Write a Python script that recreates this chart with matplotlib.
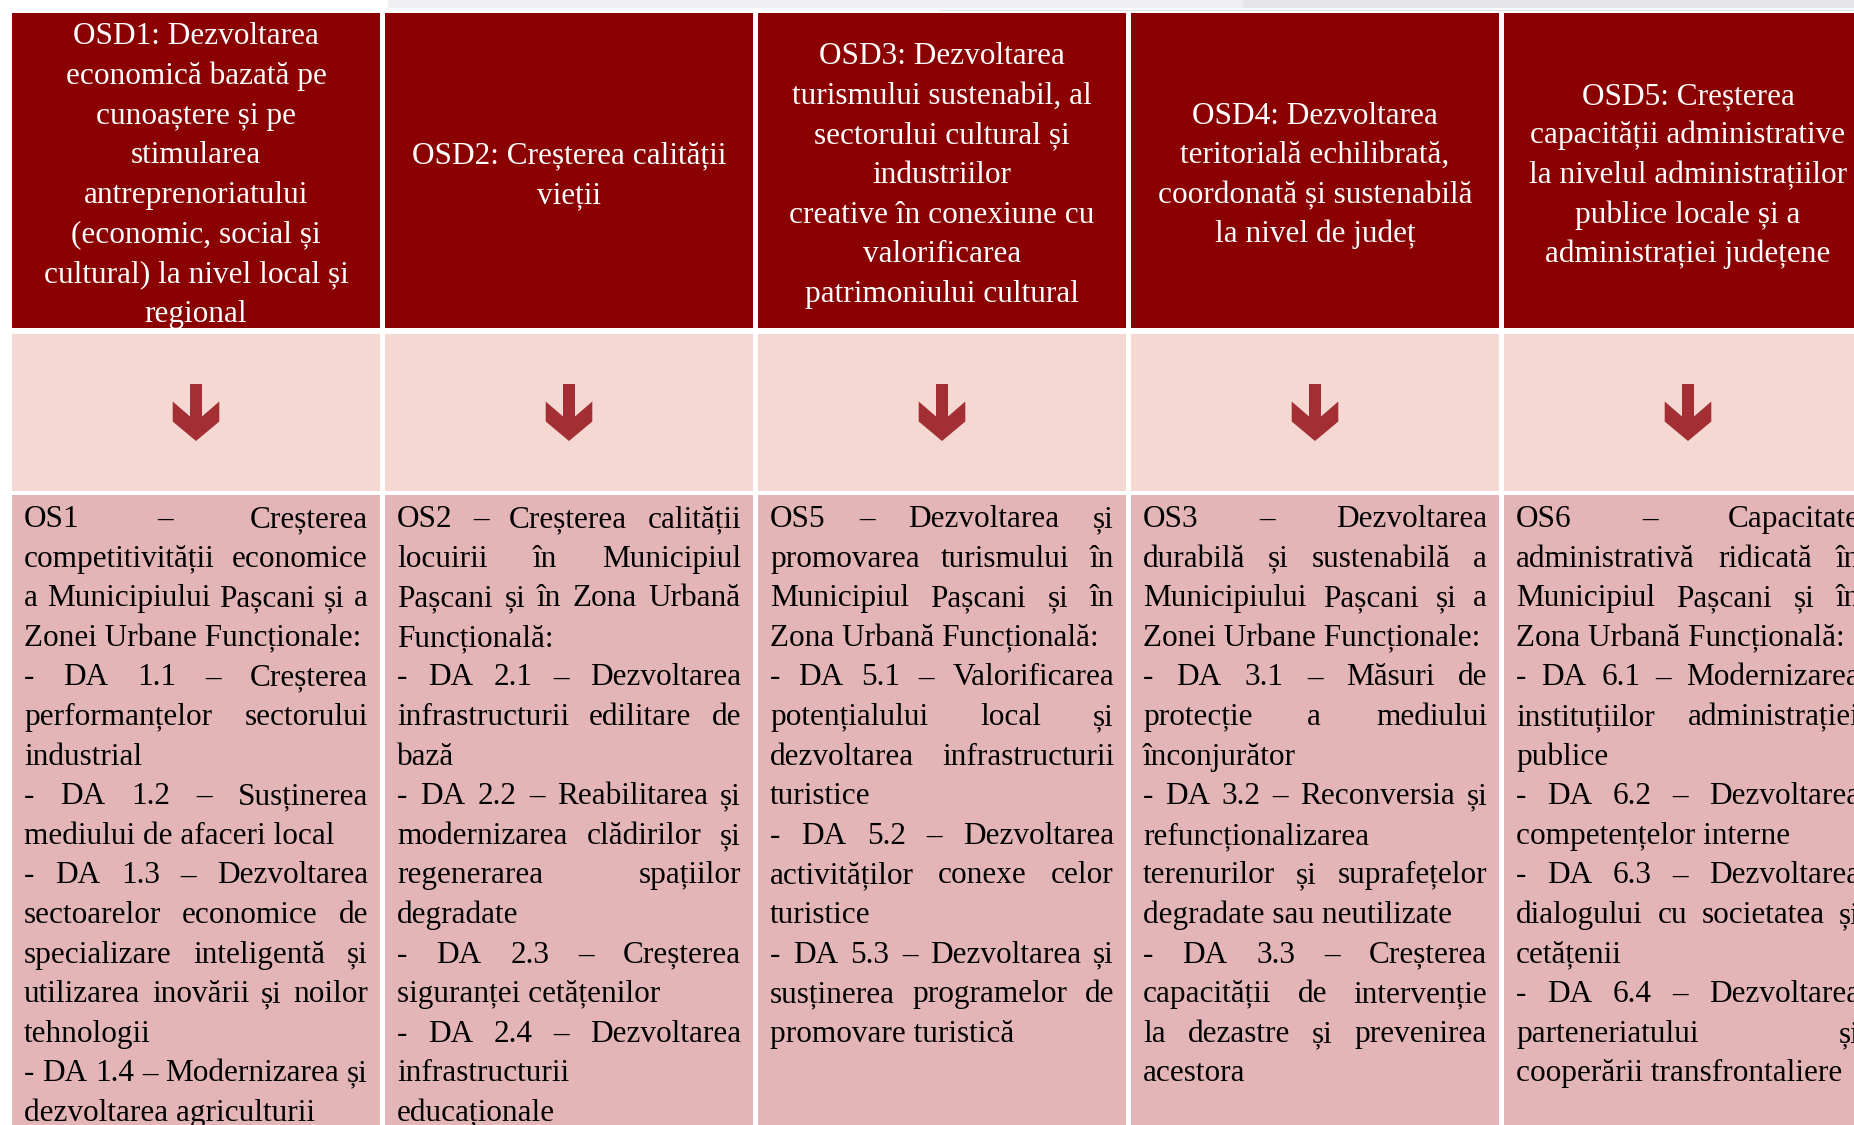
import matplotlib
matplotlib.use("Agg")
import matplotlib.pyplot as plt
from matplotlib.patches import Rectangle, Polygon
from matplotlib.font_manager import FontProperties

# --- data: header titles (one string per printed line) ---
headers = [
    ["OSD1: Dezvoltarea", "economică bazată pe", "cunoaștere și pe", "stimularea",
     "antreprenoriatului", "(economic, social și", "cultural) la nivel local și", "regional"],
    ["OSD2: Creșterea calității", "vieții"],
    ["OSD3: Dezvoltarea", "turismului sustenabil, al", "sectorului cultural și", "industriilor",
     "creative în conexiune cu", "valorificarea", "patrimoniului cultural"],
    ["OSD4: Dezvoltarea", "teritorială echilibrată,", "coordonată și sustenabilă", "la nivel de județ"],
    ["OSD5: Creșterea", "capacității administrative", "la nivelul administrațiilor",
     "publice locale și a", "administrației județene"],
]

# --- data: body paragraphs, each a list of printed lines ---
col1 = [
    ["OS1 – Creșterea", "competitivității economice", "a Municipiului Pașcani și a", "Zonei Urbane Funcționale:"],
    ["- DA 1.1 – Creșterea", "performanțelor sectorului", "industrial"],
    ["- DA 1.2 – Susținerea", "mediului de afaceri local"],
    ["- DA 1.3 – Dezvoltarea", "sectoarelor economice de", "specializare inteligentă și",
     "utilizarea inovării și noilor", "tehnologii"],
    ["- DA 1.4 – Modernizarea și", "dezvoltarea agriculturii"],
]
col2 = [
    ["OS2 – Creșterea calității", "locuirii în Municipiul", "Pașcani și în Zona Urbană", "Funcțională:"],
    ["- DA 2.1 – Dezvoltarea", "infrastructurii edilitare de", "bază"],
    ["- DA 2.2 – Reabilitarea și", "modernizarea clădirilor și", "regenerarea spațiilor", "degradate"],
    ["- DA 2.3 – Creșterea", "siguranței cetățenilor"],
    ["- DA 2.4 – Dezvoltarea", "infrastructurii", "educaționale"],
]
col3 = [
    ["OS5 – Dezvoltarea și", "promovarea turismului în", "Municipiul Pașcani și în", "Zona Urbană Funcțională:"],
    ["- DA 5.1 – Valorificarea", "potențialului local și", "dezvoltarea infrastructurii", "turistice"],
    ["- DA 5.2 – Dezvoltarea", "activităților conexe celor", "turistice"],
    ["- DA 5.3 – Dezvoltarea și", "susținerea programelor de", "promovare turistică"],
]
col4 = [
    ["OS3 – Dezvoltarea", "durabilă și sustenabilă a", "Municipiului Pașcani și a", "Zonei Urbane Funcționale:"],
    ["- DA 3.1 – Măsuri de", "protecție a mediului", "înconjurător"],
    ["- DA 3.2 – Reconversia și", "refuncționalizarea", "terenurilor și suprafețelor", "degradate sau neutilizate"],
    ["- DA 3.3 – Creșterea", "capacității de intervenție", "la dezastre și prevenirea", "acestora"],
]
col5 = [
    ["OS6 – Capacitate", "administrativă ridicată în", "Municipiul Pașcani și în", "Zona Urbană Funcțională:"],
    ["- DA 6.1 – Modernizarea", "instituțiilor administrației", "publice"],
    ["- DA 6.2 – Dezvoltarea", "competențelor interne"],
    ["- DA 6.3 – Dezvoltarea", "dialogului cu societatea și", "cetățenii"],
    ["- DA 6.4 – Dezvoltarea", "parteneriatului și", "cooperării transfrontaliere"],
]
bodies = [col1, col2, col3, col4, col5]

# --- layout (pixels, y down) ---
W, H = 1854, 1125
col_x0, col_step, col_w = 12, 373, 368
head_top, head_bot = 13, 328
arr_top, arr_bot = 334, 491
body_top = 495
pad = 12
line_h = 39.6
head_base_mid = 183
body_base0 = 527

c_head = "#8b0000"
c_arrow_bg = "#f4d8d1"
c_body = "#e4b5b7"
c_arrow = "#a32f34"

fp = FontProperties(family="Liberation Serif", size=22.5)

fig = plt.figure(figsize=(W / 100, H / 100), dpi=100)
ax = fig.add_axes([0, 0, 1, 1])
ax.set_xlim(0, W)
ax.set_ylim(H, 0)
ax.axis("off")

renderer = fig.canvas.get_renderer()

def text_w(s):
    w, h, d = renderer.get_text_width_height_descent(s, fp, ismath=False)
    return w

space_w = text_w("a a") - text_w("aa")

# strip at the very top (page edge in the screenshot)
ax.add_patch(Rectangle((388, 0), W - 388, 7.5, color="#efeff1", lw=0))
ax.add_patch(Rectangle((1243, 0), W - 1243, 7.5, color="#e6e6e9", lw=0))
ax.add_patch(Rectangle((939, 9.5), W - 939, 1.2, color="#e2e2e6", lw=0))

for i in range(len(headers)):
    x0 = col_x0 + i * col_step
    cx = x0 + col_w / 2

    # cells
    ax.add_patch(Rectangle((x0, head_top), col_w, head_bot - head_top, color=c_head, lw=0))
    ax.add_patch(Rectangle((x0, arr_top), col_w, arr_bot - arr_top, color=c_arrow_bg, lw=0))
    ax.add_patch(Rectangle((x0, body_top), col_w, H + 10 - body_top, color=c_body, lw=0))

    # header text, centred
    lines = headers[i]
    n = len(lines)
    for k, s in enumerate(lines):
        yb = head_base_mid + (k - (n - 1) / 2) * line_h
        ax.text(cx, yb, s, fontproperties=fp, color="white", ha="center", va="baseline")

    # down arrow
    cy = (arr_top + arr_bot) / 2
    shape = [(-6, -28.5), (6, -28.5), (6, 4), (23.3, -11), (23.3, 9), (0, 28.5),
             (-23.3, 9), (-23.3, -11), (-6, 4)]
    ax.add_patch(Polygon([(cx + dx, cy + dy) for dx, dy in shape], closed=True,
                         color=c_arrow, lw=0))

    # body text, justified (last line of a paragraph left-aligned)
    left = x0 + pad
    avail = col_w - 2 * pad
    row = 0
    for para in bodies[i]:
        for k, s in enumerate(para):
            yb = body_base0 + row * line_h
            words = s.split(" ")
            last = (k == len(para) - 1)
            if last or len(words) == 1:
                ax.text(left, yb, s, fontproperties=fp, color="black", ha="left", va="baseline")
            else:
                ws = [text_w(w) for w in words]
                gap = (avail - sum(ws)) / (len(words) - 1)
                gap = max(gap, space_w * 0.6)
                x = left
                for w, wd in zip(words, ws):
                    ax.text(x, yb, w, fontproperties=fp, color="black", ha="left", va="baseline")
                    x += wd + gap
            row += 1

fig.savefig("out.png", dpi=100, facecolor="white")
